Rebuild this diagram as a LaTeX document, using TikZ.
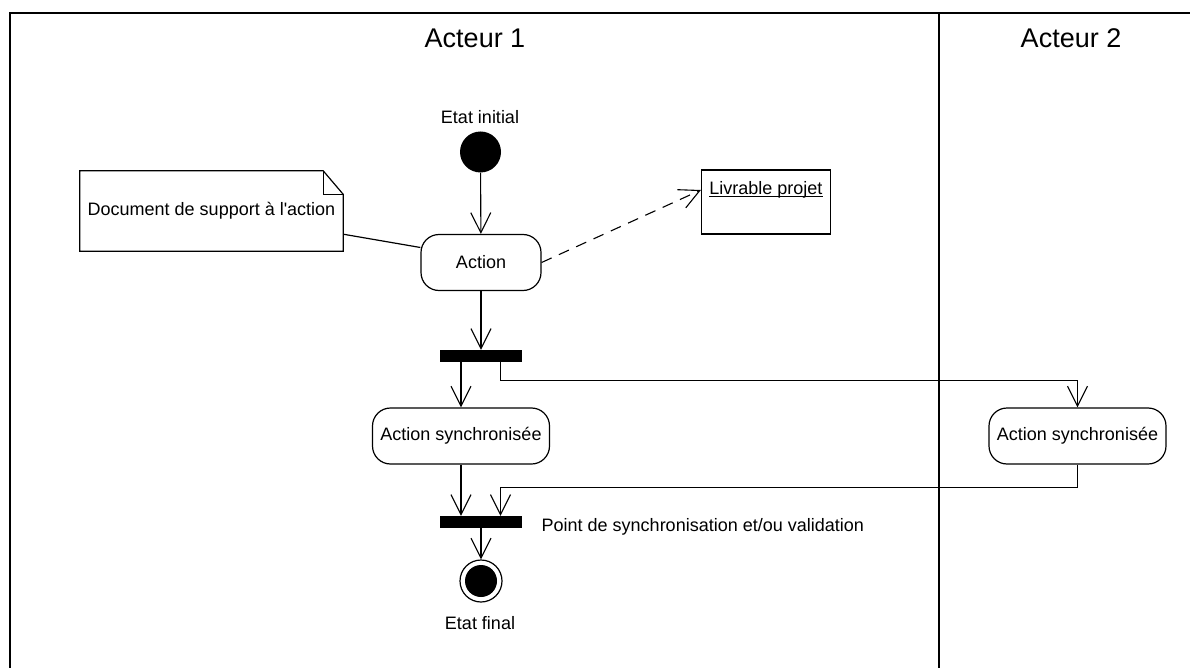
\documentclass[tikz,border=0pt]{standalone}
\usepackage{fontspec}
\setmainfont{Liberation Sans}
\usetikzlibrary{arrows.meta,calc}

\tikzset{
  x=1pt, y=-1pt,
  every node/.style={font=\fontsize{18}{20}\selectfont, inner sep=0pt},
  lane/.style={line width=2pt},
  flow/.style={line width=1.1pt, -{Straight Barb[length=20pt,width=20pt,line width=1.1pt]}},
  link/.style={line width=1.2pt},
  activity/.style={draw, line width=1.2pt, rounded corners=18pt, minimum height=56pt},
  bar/.style={fill=black, minimum width=82pt, minimum height=12pt},
  objbox/.style={draw, line width=1.2pt, minimum width=129pt, minimum height=64pt},
  title/.style={font=\fontsize{27}{30}\selectfont},
}

\begin{document}
\begin{tikzpicture}
\useasboundingbox (0,0) rectangle (1190,668);

% swimlane frame
\draw[lane] (10,668) -- (10,13) -- (1190,13);
\draw[lane] (939,13) -- (939,668);
\node[title] (lane1) at (475,38) {Acteur 1};
\node[title] (lane2) at (1071,38) {Acteur 2};

% initial state
\node (initlbl) at (480,117) {Etat initial};
\node[circle, fill=black, minimum size=41pt] (init) at (480.5,152) {};

% main action
\node[activity, minimum width=120pt] (action) at (481,262.5) {Action};

% supporting document (note with folded corner)
\node[minimum width=263pt, minimum height=80pt] (note) at (211.5,211) {Document de support à l\textquotesingle action};
\draw[link] (note.south west) -- (note.north west) -- ($(note.north east)+(-20,0)$)
  -- ($(note.north east)+(0,23.5)$) -- (note.south east) -- cycle;
\draw[link] ($(note.north east)+(-20,0)$) -- ++(0,23.5) -- ($(note.north east)+(0,23.5)$);
\draw[link] ($(note.south east)+(0,-17)$) -- ($(action.west)+(0,-15)$);

% deliverable (object name underlined)
\node[objbox] (livrable) at (766,202) {};
\node (livlbl) at ($(livrable.north)+(0,20)$) {Livrable projet};
\draw[line width=1pt] ($(livlbl.base west)+(0,2.5)$) -- ($(livlbl.base east)+(0,2.5)$);

% forks and synchronised actions
\node[bar] (bar1) at (481,356) {};
\node[activity, minimum width=177pt] (sync1) at (461,436) {Action synchronisée};
\node[activity, minimum width=177pt] (sync2) at (1077.5,436) {Action synchronisée};
\node[bar] (bar2) at (481,522) {};
\node[anchor=west] (synclbl) at (541.5,526.5) {Point de synchronisation et/ou validation};

% final state
\node[circle, draw, line width=1.2pt, minimum size=42pt] (final) at (481,581) {};
\fill (final.center) circle (16);
\node (finallbl) at (480,623) {Etat final};

% transitions
\draw[flow] (init) -- (action);
\draw[flow, dash pattern=on 11pt off 8pt] (action.east) -- ($(livrable.west)+(0,-12)$);
\draw[flow] (action.south) -- (action.south |- bar1.north);
\draw[flow] (sync1.north |- bar1.south) -- (sync1.north);
\draw[flow] ($(bar1.south)+(19.5,0)$) -- ++(0,18) -| (sync2.north);
\draw[flow] (sync1.south) -- (sync1.south |- bar2.north);
\draw[flow] (sync2.south) -- ++(0,23) -| ($(bar2.north)+(19.5,0)$);
\draw[flow] (bar2.south) -- (final.north);
\end{tikzpicture}
\end{document}
